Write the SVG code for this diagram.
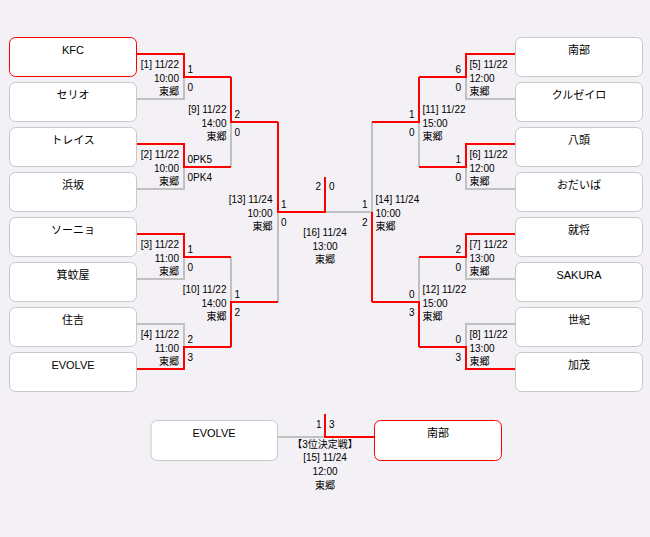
<svg xmlns="http://www.w3.org/2000/svg" width="650" height="537" viewBox="0 0 650 537">
<style>
text{font-family:"Liberation Sans","Noto Sans CJK JP",sans-serif;fill:#000}
.nm{font-size:11px;text-anchor:middle}
.lb{font-size:10px}
.e{text-anchor:end}
.m{text-anchor:middle}
.box{fill:#fff;stroke:#c8c8c8;stroke-width:1}
.win{stroke:#ff0000}
.g{fill:none;stroke:#c0c0c0;stroke-width:2}
.r{fill:none;stroke:#ff0000;stroke-width:2}
</style>
<rect width="650" height="537" fill="#f3f1f5"/>
<g id="connectors">
<path class="g" d="M136.5,99H184V77M136.5,189H184V167M136.5,279H184V257M136.5,324H184V347M231,167V122M231,257V302M278,302V212M325,212H372M515.5,99H466V77M515.5,189H466V167M515.5,279H466V257M515.5,324H466V347M419,167V122M419,257V302M372,122V212M277,437H325"/>
<path class="r" d="M136.5,54H184V77H231M136.5,144H184V167H231M136.5,234H184V257H231M136.5,369H184V347H231M231,77V122H278M231,347V302H278M278,122V212H325V177M515.5,54H466V77H419M515.5,144H466V167H419M515.5,234H466V257H419M515.5,369H466V347H419M419,77V122H372M419,347V302H372M372,302V212M325,414V437H374.5"/>
</g>
<g id="team-kfc"><rect class="box win" x="9.5" y="37.5" width="127" height="39" rx="6"/><text class="nm" x="73" y="53.5">KFC</text></g>
<g id="team-serio"><rect class="box" x="9.5" y="82.5" width="127" height="39" rx="6"/><text class="nm" x="73" y="98.5">セリオ</text></g>
<g id="team-trace"><rect class="box" x="9.5" y="127.5" width="127" height="39" rx="6"/><text class="nm" x="73" y="143.5">トレイス</text></g>
<g id="team-hamasaka"><rect class="box" x="9.5" y="172.5" width="127" height="39" rx="6"/><text class="nm" x="73" y="188.5">浜坂</text></g>
<g id="team-sonho"><rect class="box" x="9.5" y="217.5" width="127" height="39" rx="6"/><text class="nm" x="73" y="233.5">ソーニョ</text></g>
<g id="team-minokaya"><rect class="box" x="9.5" y="262.5" width="127" height="39" rx="6"/><text class="nm" x="73" y="278.5">箕蚊屋</text></g>
<g id="team-sumiyoshi"><rect class="box" x="9.5" y="307.5" width="127" height="39" rx="6"/><text class="nm" x="73" y="323.5">住吉</text></g>
<g id="team-evolve"><rect class="box" x="9.5" y="352.5" width="127" height="39" rx="6"/><text class="nm" x="73" y="368.5">EVOLVE</text></g>
<g id="team-nanbu"><rect class="box" x="515.5" y="37.5" width="127" height="39" rx="6"/><text class="nm" x="579" y="53.5">南部</text></g>
<g id="team-cruzeiro"><rect class="box" x="515.5" y="82.5" width="127" height="39" rx="6"/><text class="nm" x="579" y="98.5">クルゼイロ</text></g>
<g id="team-hatto"><rect class="box" x="515.5" y="127.5" width="127" height="39" rx="6"/><text class="nm" x="579" y="143.5">八頭</text></g>
<g id="team-odaiba"><rect class="box" x="515.5" y="172.5" width="127" height="39" rx="6"/><text class="nm" x="579" y="188.5">おだいば</text></g>
<g id="team-shusho"><rect class="box" x="515.5" y="217.5" width="127" height="39" rx="6"/><text class="nm" x="579" y="233.5">就将</text></g>
<g id="team-sakura"><rect class="box" x="515.5" y="262.5" width="127" height="39" rx="6"/><text class="nm" x="579" y="278.5">SAKURA</text></g>
<g id="team-seiki"><rect class="box" x="515.5" y="307.5" width="127" height="39" rx="6"/><text class="nm" x="579" y="323.5">世紀</text></g>
<g id="team-kamo"><rect class="box" x="515.5" y="352.5" width="127" height="39" rx="6"/><text class="nm" x="579" y="368.5">加茂</text></g>
<g id="third-evolve"><rect class="box" x="151" y="420.5" width="126.5" height="40" rx="6"/><text class="nm" x="214" y="437">EVOLVE</text></g>
<g id="third-nanbu"><rect class="box win" x="374.5" y="420.5" width="127" height="40" rx="6"/><text class="nm" x="438" y="437">南部</text></g>
<g id="m1" class="lb"><text class="lb e" x="179" y="68">[1] 11/22</text><text class="lb e" x="179" y="81.5">10:00</text><text class="lb e" x="179" y="95">東郷</text><text class="lb" x="187.5" y="72.5">1</text><text class="lb" x="187.5" y="90.5">0</text></g>
<g id="m2"><text class="lb e" x="179" y="158">[2] 11/22</text><text class="lb e" x="179" y="171.5">10:00</text><text class="lb e" x="179" y="185">東郷</text><text class="lb" x="187.5" y="162.5">0PK5</text><text class="lb" x="187.5" y="180.5">0PK4</text></g>
<g id="m3"><text class="lb e" x="179" y="248">[3] 11/22</text><text class="lb e" x="179" y="261.5">11:00</text><text class="lb e" x="179" y="275">東郷</text><text class="lb" x="187.5" y="252.5">1</text><text class="lb" x="187.5" y="270.5">0</text></g>
<g id="m4"><text class="lb e" x="179" y="338">[4] 11/22</text><text class="lb e" x="179" y="351.5">11:00</text><text class="lb e" x="179" y="365">東郷</text><text class="lb" x="187.5" y="342.5">2</text><text class="lb" x="187.5" y="360.5">3</text></g>
<g id="m9"><text class="lb e" x="226.5" y="113">[9] 11/22</text><text class="lb e" x="226.5" y="126.5">14:00</text><text class="lb e" x="226.5" y="140">東郷</text><text class="lb" x="234.5" y="117.5">2</text><text class="lb" x="234.5" y="135.5">0</text></g>
<g id="m10"><text class="lb e" x="226.5" y="293">[10] 11/22</text><text class="lb e" x="226.5" y="306.5">14:00</text><text class="lb e" x="226.5" y="320">東郷</text><text class="lb" x="234.5" y="297.5">1</text><text class="lb" x="234.5" y="315.5">2</text></g>
<g id="m13"><text class="lb e" x="272.5" y="203">[13] 11/24</text><text class="lb e" x="272.5" y="216.5">10:00</text><text class="lb e" x="272.5" y="230">東郷</text><text class="lb" x="281" y="207.5">1</text><text class="lb" x="281" y="225.5">0</text></g>
<g id="m5"><text class="lb" x="469.5" y="68">[5] 11/22</text><text class="lb" x="469.5" y="81.5">12:00</text><text class="lb" x="469.5" y="95">東郷</text><text class="lb e" x="461" y="72.5">6</text><text class="lb e" x="461" y="90.5">0</text></g>
<g id="m6"><text class="lb" x="469.5" y="158">[6] 11/22</text><text class="lb" x="469.5" y="171.5">12:00</text><text class="lb" x="469.5" y="185">東郷</text><text class="lb e" x="461" y="162.5">1</text><text class="lb e" x="461" y="180.5">0</text></g>
<g id="m7"><text class="lb" x="469.5" y="248">[7] 11/22</text><text class="lb" x="469.5" y="261.5">13:00</text><text class="lb" x="469.5" y="275">東郷</text><text class="lb e" x="461" y="252.5">2</text><text class="lb e" x="461" y="270.5">0</text></g>
<g id="m8"><text class="lb" x="469.5" y="338">[8] 11/22</text><text class="lb" x="469.5" y="351.5">13:00</text><text class="lb" x="469.5" y="365">東郷</text><text class="lb e" x="461" y="342.5">0</text><text class="lb e" x="461" y="360.5">3</text></g>
<g id="m11"><text class="lb" x="422.5" y="113">[11] 11/22</text><text class="lb" x="422.5" y="126.5">15:00</text><text class="lb" x="422.5" y="140">東郷</text><text class="lb e" x="414.5" y="117.5">1</text><text class="lb e" x="414.5" y="135.5">0</text></g>
<g id="m12"><text class="lb" x="422.5" y="293">[12] 11/22</text><text class="lb" x="422.5" y="306.5">15:00</text><text class="lb" x="422.5" y="320">東郷</text><text class="lb e" x="414.5" y="297.5">0</text><text class="lb e" x="414.5" y="315.5">3</text></g>
<g id="m14"><text class="lb" x="375.5" y="203">[14] 11/24</text><text class="lb" x="375.5" y="216.5">10:00</text><text class="lb" x="375.5" y="230">東郷</text><text class="lb e" x="367.5" y="207.5">1</text><text class="lb e" x="367.5" y="225.5">2</text></g>
<g id="m16"><text class="lb e" x="321" y="189.5">2</text><text class="lb" x="329" y="189.5">0</text><text class="lb m" x="325" y="236">[16] 11/24</text><text class="lb m" x="325" y="249.5">13:00</text><text class="lb m" x="325" y="263">東郷</text></g>
<g id="m15"><text class="lb e" x="321.5" y="427.5">1</text><text class="lb" x="329" y="427.5">3</text><text class="lb m" x="325" y="448">【3位決定戦】</text><text class="lb m" x="325" y="461">[15] 11/24</text><text class="lb m" x="325" y="474.5">12:00</text><text class="lb m" x="325" y="488.5">東郷</text></g>
</svg>
